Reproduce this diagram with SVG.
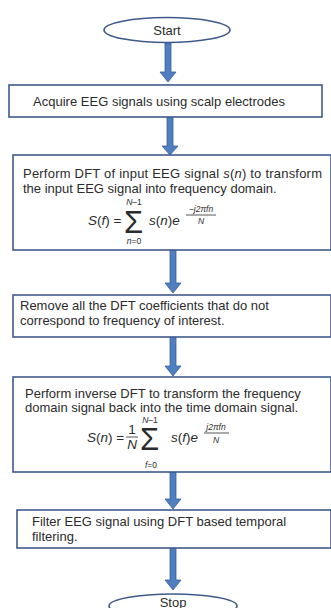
<svg xmlns="http://www.w3.org/2000/svg" width="331" height="608" viewBox="0 0 331 608">
  <style>
    .node { fill: #ffffff; stroke: #3f5a8a; stroke-width: 1.6; }
    .arrow { fill: #4f7fc0; stroke: #35609a; stroke-width: 0.8; }
    text { font-family: "Liberation Sans", Arial, sans-serif; fill: #2b2b2b; }
    .t { font-size: 13px; }
    .m { font-size: 13.5px; }
    .s { font-size: 8.5px; }
    .sig { font-size: 31px; }
    .i { font-style: italic; }
    .frac { stroke: #2b2b2b; stroke-width: 0.8; }
  </style>

  <rect width="331" height="608" fill="#ffffff"/>

  <!-- connectors -->
  <g id="connectors">
    <polygon class="arrow" points="165,43 171,43 171,72 176,72 168,82 160,72 165,72"/>
    <polygon class="arrow" points="167,117 173,117 173,146 178,146 170,155 162,146 167,146"/>
    <polygon class="arrow" points="170,250 176,250 176,283 181,283 173,293 165,283 170,283"/>
    <polygon class="arrow" points="170,337 176,337 176,366 181,366 173,376 165,366 170,366"/>
    <polygon class="arrow" points="170,472 176,472 176,499 181,499 173,509 165,499 170,499"/>
    <polygon class="arrow" points="170,548 176,548 176,580 181,580 173,590 165,580 170,580"/>
  </g>

  <g id="start">
    <ellipse class="node" cx="167" cy="30" rx="63" ry="12.5"/>
    <text class="t" x="167" y="35" text-anchor="middle">Start</text>
  </g>

  <g id="acquire">
    <rect class="node" x="9" y="85" width="313" height="32"/>
    <text class="t" x="33" y="106" textLength="252">Acquire EEG signals using scalp electrodes</text>
  </g>

  <g id="dft">
    <rect class="node" x="13" y="155" width="318" height="95"/>
    <text class="t" x="23" y="178" textLength="299">Perform DFT of input EEG signal <tspan class="i">s</tspan>(<tspan class="i">n</tspan>) to transform</text>
    <text class="t" x="23" y="193">the input EEG signal into frequency domain.</text>
    <!-- S(f) = sum s(n) e^(-j2 pi f n / N) -->
    <text class="m" x="88" y="225"><tspan class="i">S</tspan>(<tspan class="i">f</tspan>) =</text>
    <text class="sig" x="124" y="233">Σ</text>
    <text class="s" x="134" y="205" text-anchor="middle"><tspan class="i">N</tspan>–1</text>
    <text class="s" x="134" y="244" text-anchor="middle"><tspan class="i">n</tspan>=0</text>
    <text class="m" x="149" y="225"><tspan class="i">s</tspan>(<tspan class="i">n</tspan>)<tspan class="i">e</tspan></text>
    <text class="s i" x="201" y="212" text-anchor="middle">−j2πfn</text>
    <line class="frac" x1="186" y1="215" x2="216" y2="215"/>
    <text class="s i" x="201" y="224" text-anchor="middle">N</text>
  </g>

  <g id="remove">
    <rect class="node" x="13" y="295" width="318" height="42"/>
    <text class="t" x="20" y="310">Remove all the DFT coefficients that do not</text>
    <text class="t" x="20" y="325">correspond to frequency of interest.</text>
  </g>

  <g id="idft">
    <rect class="node" x="13" y="377" width="318" height="95"/>
    <text class="t" x="25" y="398">Perform inverse DFT to transform the frequency</text>
    <text class="t" x="25" y="412">domain signal back into the time domain signal.</text>
    <!-- S(n) = 1/N sum s(f) e^(j2 pi f n / N) -->
    <text class="m" x="87" y="442"><tspan class="i">S</tspan>(<tspan class="i">n</tspan>) =</text>
    <text class="m" x="132" y="434" text-anchor="middle">1</text>
    <line class="frac" x1="126" y1="437" x2="138" y2="437"/>
    <text class="m i" x="132" y="449" text-anchor="middle">N</text>
    <text class="sig" x="140" y="450">Σ</text>
    <text class="s" x="150" y="423" text-anchor="middle"><tspan class="i">N</tspan>–1</text>
    <text class="s" x="151" y="468" text-anchor="middle"><tspan class="i">f</tspan>=0</text>
    <text class="m" x="171" y="442"><tspan class="i">s</tspan>(<tspan class="i">f</tspan>)<tspan class="i">e</tspan></text>
    <text class="s i" x="216" y="430" text-anchor="middle">j2πfn</text>
    <line class="frac" x1="204" y1="433" x2="229" y2="433"/>
    <text class="s i" x="216" y="443" text-anchor="middle">N</text>
  </g>

  <g id="filter">
    <rect class="node" x="17" y="510" width="314" height="38"/>
    <text class="t" x="32" y="526">Filter EEG signal using DFT based temporal</text>
    <text class="t" x="32" y="541">filtering.</text>
  </g>

  <g id="stop">
    <ellipse class="node" cx="173" cy="606" rx="64" ry="12"/>
    <text class="t" x="173" y="607" text-anchor="middle">Stop</text>
  </g>
</svg>
